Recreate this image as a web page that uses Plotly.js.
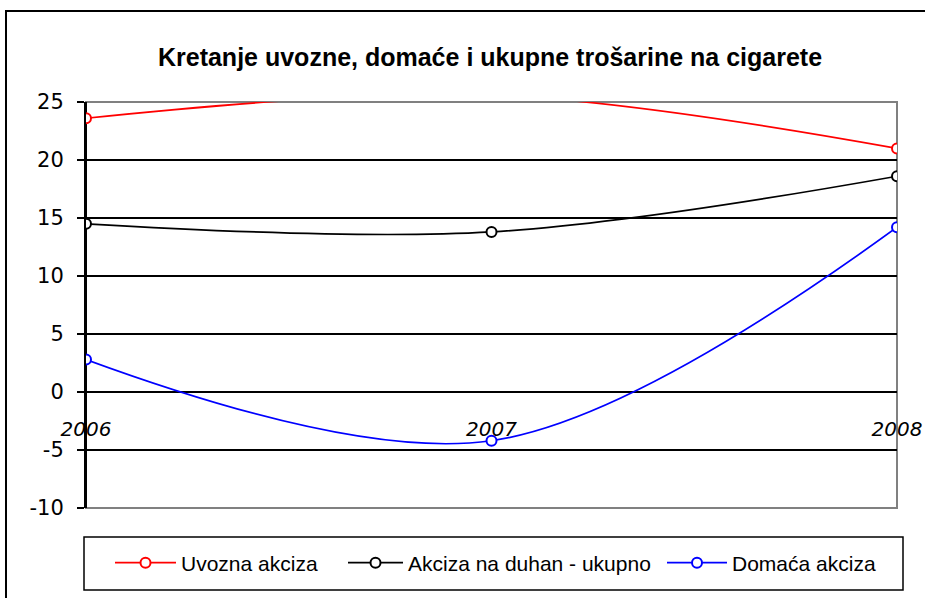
<!DOCTYPE html>
<html><head><meta charset="utf-8">
<script src="https://cdn.plot.ly/plotly-3.0.1.min.js"></script>
<style>html,body{margin:0;padding:0;background:#fff;}#chart{width:925px;height:598px;}</style>
</head><body><div id="chart"></div>
<script>
const years = ['2006', '2007', '2008'];
const uvozna = [23.6, 25.6, 21.0];
const ukupno = [14.5, 13.8, 18.6];
const domaca = [2.8, -4.2, 14.2];
const seriesNames = ['Uvozna akciza', 'Akciza na duhan - ukupno', 'Domaća akciza'];
const seriesColors = ['#ff0000', '#000000', '#0000ff'];
const yTicks = [-10, -5, 0, 5, 10, 15, 20, 25];

const W = 925, H = 598, L = 86, R = 28, T = 102, B = 90;
const pw = W - L - R, ph = H - T - B;
const px2x = p => (p - L) / pw;
const px2y = p => (H - B - p) / ph;

const data = [uvozna, ukupno, domaca].map((vals, i) => ({
  x: years, y: vals, type: 'scatter', mode: 'lines+markers',
  name: seriesNames[i],
  line: {color: seriesColors[i], width: 1.7, shape: 'spline', smoothing: 1},
  marker: {symbol: 'circle', size: 10, color: '#ffffff', line: {color: seriesColors[i], width: 2}},
  legend: i === 0 ? 'legend' : 'legend' + (i + 1),
  cliponaxis: true
}));

const legendPos = [110, 343, 662];
const legendItemW = [61, 55, 60];
function mkLegend(i) {
  return {
    x: px2x(legendPos[i]), xanchor: 'left', y: px2y(563), yanchor: 'middle',
    orientation: 'h', bgcolor: 'rgba(0,0,0,0)', borderwidth: 0,
    font: {family: 'Liberation Sans, Arial, sans-serif', size: 21, color: '#000'},
    itemwidth: legendItemW[i]
  };
}

const layout = {
  width: W, height: H,
  margin: {l: L, r: R, t: T, b: B},
  paper_bgcolor: '#ffffff', plot_bgcolor: '#ffffff',
  showlegend: true,
  title: {text: 'Kretanje uvozne, domaće i ukupne trošarine na cigarete',
    font: {family: 'Liberation Sans, Arial, sans-serif', size: 25, color: '#000', weight: 'bold'},
    x: 490 / W, xanchor: 'center', y: 1 - 57 / H, yanchor: 'middle'},
  xaxis: {
    type: 'category', range: [0, 2], anchor: 'free', position: 10 / 35,
    showgrid: false, zeroline: false, showline: false,
    ticks: '', ticklabelstandoff: 23,
    tickfont: {family: 'DejaVu Sans, Verdana, sans-serif', size: 20, color: '#000', style: 'italic'}
  },
  yaxis: {
    range: [-10, 25], tickvals: yTicks, ticktext: yTicks.map(String),
    showgrid: true, gridcolor: '#000', gridwidth: 1.3,
    zeroline: true, zerolinecolor: '#000', zerolinewidth: 2,
    showline: true, linecolor: '#000', linewidth: 2,
    ticks: 'outside', ticklen: 7, tickwidth: 2, tickcolor: '#000', ticklabelstandoff: 9,
    tickfont: {family: 'DejaVu Sans, Verdana, sans-serif', size: 21, color: '#000'}
  },
  legend: mkLegend(0), legend2: mkLegend(1), legend3: mkLegend(2),
  shapes: [
    {type: 'rect', xref: 'paper', yref: 'paper', x0: 0, x1: 1, y0: 0, y1: 1,
      line: {color: '#808080', width: 2}, layer: 'between'},
    {type: 'line', xref: 'paper', yref: 'paper', x0: 0, x1: 0, y0: 0, y1: 1,
      line: {color: '#000', width: 2}, layer: 'between'},
    {type: 'rect', xref: 'paper', yref: 'paper', x0: px2x(6), x1: px2x(940), y0: px2y(11), y1: px2y(610),
      line: {color: '#000', width: 2}, layer: 'below'},
    {type: 'rect', xref: 'paper', yref: 'paper', x0: px2x(84), x1: px2x(903), y0: px2y(537), y1: px2y(590),
      line: {color: '#000', width: 1.5}, layer: 'below'}
  ]
};

Plotly.newPlot('chart', data, layout, {displayModeBar: false, staticPlot: true});
</script></body></html>
